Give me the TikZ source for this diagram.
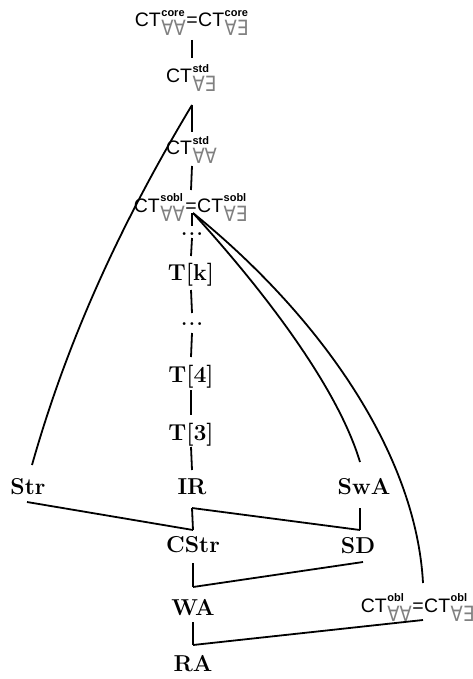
\documentclass[tikz,border=0pt]{standalone}
\usepackage{graphicx}
\usepackage{fontspec}
\newfontfamily\ctfont{Liberation Sans}
\newfontfamily\symfont{DejaVu Sans}
\definecolor{subgray}{gray}{0.5}
\newcommand\scr[2]{\rlap{\raisebox{10.5pt}{\fontsize{11}{11}\ctfont\bfseries #1}}\raisebox{-9pt}{\scalebox{0.85}[1]{\fontsize{21}{21}\symfont\color{subgray}#2}}}
\newcommand\CTx[2]{{\fontsize{19.5}{19.5}\ctfont CT}\kern0.5pt\scr{#1}{#2}}
\newcommand\CTpair[3]{\makebox[0pt][r]{\CTx{#1}{#2}\kern0.5pt}{\fontsize{19.5}{19.5}\ctfont =}\makebox[0pt][l]{\kern0.5pt\CTx{#1}{#3}}}
\newcommand\CTone[2]{\makebox[0pt][r]{\fontsize{19.5}{19.5}\ctfont CT}\makebox[0pt][l]{\kern0.5pt\scr{#1}{#2}}}
\newcommand\vdotsrow{{\fontsize{20}{20}\selectfont\bfseries.\kern1.5pt.\kern1.5pt.}}
\begin{document}
\begin{tikzpicture}[x=1pt,y=-1pt,line width=1.8pt,
  lab/.style={anchor=base,inner sep=0pt,font=\fontsize{23}{23}\selectfont\bfseries},
  ctn/.style={anchor=base,inner sep=0pt},
  dotn/.style={anchor=base,inner sep=0pt}]
\path[use as bounding box] (0,0) rectangle (472,679);
% nodes
\node[ctn] (top) at (192,27) {\CTpair{core}{∀∀}{∀∃}};
\node[ctn] (ctE) at (192,83) {\CTone{std}{∀∃}};
\node[ctn] (ctA) at (192,155) {\CTone{std}{∀∀}};
\node[ctn] (sobl) at (191,212) {\CTpair{sobl}{∀∀}{∀∃}};
\node[dotn] (d1) at (192,235) {\vdotsrow};
\node[lab] (Tk) at (191,280) {T[k]};
\node[dotn] (d2) at (192,325) {\vdotsrow};
\node[lab] (T4) at (191,382) {T[4]};
\node[lab] (T3) at (191,440) {T[3]};
\node[lab] (Str) at (28,494) {Str};
\node[lab] (IR) at (192,494) {IR};
\node[lab] (SwA) at (364,494) {SwA};
\node[lab] (CStr) at (193,552) {CStr};
\node[lab] (SD) at (358,553) {SD};
\node[lab] (WA) at (193,615) {WA};
\node[ctn] (obl) at (418,612) {\CTpair{obl}{∀∀}{∀∃}};
\node[lab] (RA) at (193,671) {RA};
% vertical chain
\draw ([yshift=-13pt]top.base) -- ([yshift=25pt]ctE.base);
\draw ([yshift=-22pt]ctE.base) -- ([yshift=23pt]ctA.base);
\draw ([yshift=-11pt]ctA.base) -- ([yshift=22pt]sobl.base);
\draw ([xshift=1pt,yshift=-1pt]sobl.base) -- ([yshift=9pt]d1.base);
\draw ([yshift=-3pt]d1.base) -- ([yshift=24pt]Tk.base);
\draw ([yshift=-10pt]Tk.base) -- ([yshift=12pt]d2.base);
\draw ([yshift=-8pt]d2.base) -- ([yshift=25pt]T4.base);
\draw ([yshift=-8pt]T4.base) -- ([yshift=25pt]T3.base);
\draw ([yshift=-7pt]T3.base) -- ([yshift=24pt]IR.base);
% lower part
\draw ([xshift=-1pt,yshift=-8pt]Str.base) -- ([yshift=22pt]CStr.base);
\draw ([yshift=-14pt]IR.base) -- ([yshift=22pt]CStr.base);
\draw ([yshift=-14pt]IR.base) -- ([xshift=2pt,yshift=23pt]SD.base);
\draw ([xshift=-4pt,yshift=-14pt]SwA.base) -- ([xshift=2pt,yshift=23pt]SD.base);
\draw ([yshift=-11pt]CStr.base) -- ([yshift=28pt]WA.base);
\draw ([xshift=5pt,yshift=-9pt]SD.base) -- ([yshift=28pt]WA.base);
\draw ([yshift=-7pt]WA.base) -- ([yshift=26pt]RA.base);
\draw ([xshift=5pt,yshift=-8pt]obl.base) -- ([yshift=26pt]RA.base);
% curves
\draw ([yshift=-22pt]ctE.base) .. controls +(-75,125) and +(34,-120) .. ([xshift=4pt,yshift=29pt]Str.base);
\draw ([xshift=2pt,yshift=-1pt]sobl.base) .. controls +(62,68) and +(-24,-80) .. ([xshift=-4pt,yshift=32pt]SwA.base);
\draw ([xshift=2pt,yshift=-1pt]sobl.base) .. controls +(127,103) and +(-7,-130) .. ([xshift=5pt,yshift=29pt]obl.base);
\end{tikzpicture}
\end{document}
